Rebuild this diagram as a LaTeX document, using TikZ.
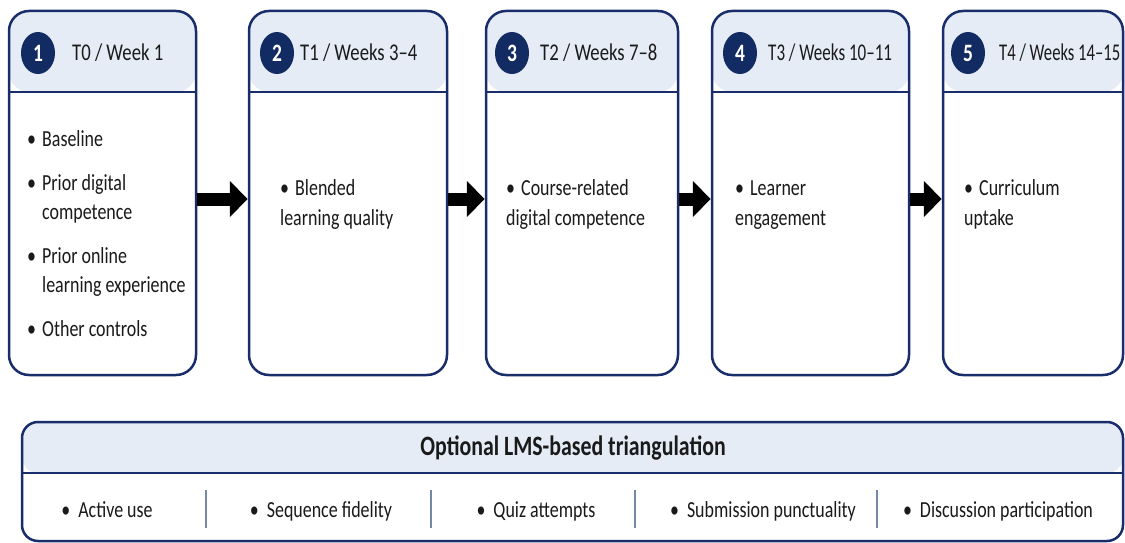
\documentclass[tikz,border=0pt]{standalone}
\usepackage{fontspec}
\setmainfont{Carlito}[FakeStretch=0.78]
\usetikzlibrary{arrows.meta,shapes.geometric}

\definecolor{navy}{HTML}{1A2D6B}
\definecolor{badgefill}{HTML}{132B63}
\definecolor{hdrfill}{HTML}{E5ECF6}
\definecolor{sepgray}{HTML}{7587A8}
\definecolor{ink}{HTML}{1A1A1A}

\newcommand\bodyfont{\fontsize{23}{29.5}\selectfont}
\newcommand\itm[1]{\par\spaceskip=0pt\xspaceskip=0pt\hangindent=15pt\hangafter=1\noindent\makebox[15pt][l]{\textbullet}#1}
\newcommand\gap{\par\vspace{14pt}}

\begin{document}
\begin{tikzpicture}[x=1pt,y=-1pt,
    stage/.style={draw=navy,line width=2.5pt,rounded corners=20pt,fill=white,
        minimum height=364pt,inner sep=0pt,
        path picture={
            \fill[hdrfill] (path picture bounding box.north west) rectangle ([yshift=-81pt]path picture bounding box.north east);
            \draw[navy,line width=2.5pt] ([yshift=-81pt]path picture bounding box.north west) -- ([yshift=-81pt]path picture bounding box.north east);}},
    lmsbox/.style={draw=navy,line width=2.5pt,rounded corners=16pt,fill=white,
        minimum width=1101pt,minimum height=119pt,inner sep=0pt,
        path picture={
            \fill[hdrfill] (path picture bounding box.north west) rectangle ([yshift=-51pt]path picture bounding box.north east);
            \draw[navy,line width=2.5pt] ([yshift=-51pt]path picture bounding box.north west) -- ([yshift=-51pt]path picture bounding box.north east);}},
    badge/.style={ellipse,fill=badgefill,text=white,minimum width=34pt,minimum height=42pt,
        inner sep=0pt,font=\fontsize{25}{25}\selectfont\bfseries},
    hdr/.style={anchor=west,inner sep=0pt,text=ink,font=\fontsize{24}{24}\selectfont},
    body/.style={anchor=north west,inner sep=0pt,text=ink,text width=175pt,align=left,font=\bodyfont},
    lmsitem/.style={anchor=base,inner sep=0pt,text=ink,font=\bodyfont},
    flow/.style={line width=13pt,-{Triangle[length=18pt,width=35pt]}},
    sepline/.style={draw=sepgray,line width=1.5pt}
]
\useasboundingbox (0,0) rectangle (1125,543);

% stage boxes
\node[stage,minimum width=187pt] (s1) at (102.5,193) {};
\node[stage,minimum width=198pt] (s2) at (348,193)   {};
\node[stage,minimum width=192pt] (s3) at (582,193)   {};
\node[stage,minimum width=197pt] (s4) at (810.5,193) {};
\node[stage,minimum width=180pt] (s5) at (1033,193)  {};

% headers
\node[badge] (b1) at (38,53)   {1};
\node[badge] (b2) at (277,53)  {2};
\node[badge] (b3) at (512,53)  {3};
\node[badge] (b4) at (740,53)  {4};
\node[badge] (b5) at (968,53)  {5};
\node[hdr] (h1) at (72,53)   {T0 / Week 1};
\node[hdr] (h2) at (300,53)  {T1 / Weeks 3--4};
\node[hdr] (h3) at (540,53)  {T2 / Weeks 7--8};
\node[hdr] (h4) at (768,53)  {\scalebox{0.91}[1]{T3 / Weeks 10--11}};
\node[hdr] (h5) at (999,53)  {\scalebox{0.89}[1]{T4 / Weeks 14--15}};

% measures
\node[body] (m1) at (27,117) {\itm{Baseline}\gap
    \itm{Prior digital\newline competence}\gap
    \itm{Prior online\newline learning experience}\gap
    \itm{Other controls}};
\node[body] (m2) at (280,166) {\itm{Blended\newline learning quality}};
\node[body] (m3) at (506,166) {\itm{Course-related\newline digital competence}};
\node[body] (m4) at (735,166) {\itm{Learner\newline engagement}};
\node[body] (m5) at (964,166) {\itm{Curriculum\newline uptake}};

% arrows
\draw[flow] ([yshift=-6pt]s1.east) -- ([yshift=-6pt]s2.west);
\draw[flow] ([yshift=-6pt]s2.east) -- ([yshift=-6pt]s3.west);
\draw[flow] ([yshift=-6pt]s3.east) -- ([yshift=-6pt]s4.west);
\draw[flow] ([yshift=-6pt]s4.east) -- ([yshift=-6pt]s5.west);

% LMS triangulation
\node[lmsbox] (lms) at (572.5,481.5) {};
\node[text=ink,inner sep=0pt,font=\fontsize{28}{28}\selectfont\bfseries] (title) at (573,448) {Optional LMS-based triangulation};
\node[lmsitem] (l1) at (107,517)  {\textbullet\hspace{8pt}Active use};
\node[lmsitem] (l2) at (321,517)  {\textbullet\hspace{8pt}Sequence fidelity};
\node[lmsitem] (l3) at (536,517)  {\textbullet\hspace{8pt}Quiz attempts};
\node[lmsitem] (l4) at (763,517)  {\textbullet\hspace{8pt}Submission punctuality};
\node[lmsitem] (l5) at (998,517)  {\textbullet\hspace{8pt}Discussion participation};
\foreach \x in {206,431,635,877}
    \draw[sepline] (\x,490) -- (\x,528);
\end{tikzpicture}
\end{document}
